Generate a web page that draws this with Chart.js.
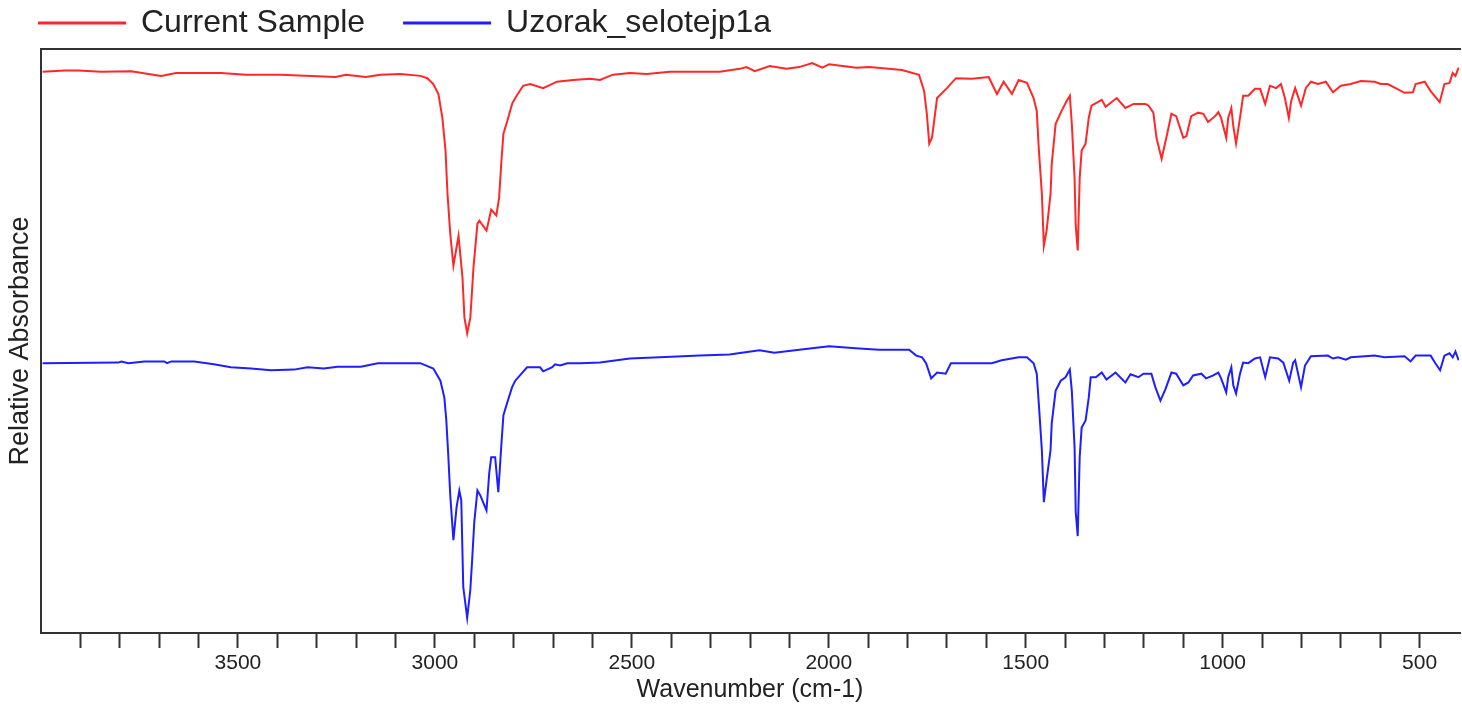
<!DOCTYPE html>
<html>
<head>
<meta charset="utf-8">
<title>IR spectra</title>
<script src="https://cdn.jsdelivr.net/npm/chart.js@4.4.1/dist/chart.umd.min.js"></script>
<style>
  html, body { margin: 0; padding: 0; background: #fff; }
  canvas { display: block; }
</style>
</head>
<body>
<canvas id="spectrum" width="1462" height="705"></canvas>
<script>
// series names
const seriesNames = ['Current Sample', 'Uzorak_selotejp1a'];

// x axis range (cm-1) and labelled ticks
const wnMin = 400;
const wnMax = 4000;
const tickStep = 100;
const labelStep = 500;

// Current Sample: wavenumber (cm-1) and relative value (0 = bottom of plot, 100 = top)
const redWn = [3996, 3940, 3905, 3847, 3771, 3695, 3657, 3543, 3480, 3391, 3252, 3226, 3176, 3138, 3087, 3037, 3019, 3004, 2991, 2981,
  2973, 2968, 2961, 2953, 2940, 2930, 2925, 2918, 2910, 2902, 2892, 2887, 2869, 2857, 2844, 2837, 2831, 2826, 2816, 2804,
  2796, 2776, 2758, 2725, 2690, 2649, 2606, 2581, 2548, 2505, 2462, 2404, 2277, 2226, 2209, 2188, 2150, 2107, 2075, 2042,
  2016, 1999, 1930, 1897, 1814, 1771, 1758, 1751, 1745, 1738, 1725, 1700, 1677, 1637, 1594, 1573, 1556, 1535, 1518, 1497,
  1480, 1472, 1467, 1459, 1454, 1447, 1437, 1434, 1424, 1409, 1396, 1388, 1383, 1376, 1373, 1368, 1363, 1358, 1348, 1340,
  1333, 1307, 1297, 1269, 1247, 1226, 1196, 1188, 1176, 1168, 1155, 1143, 1130, 1118, 1100, 1092, 1080, 1062, 1049, 1037,
  1019, 1011, 1004, 991, 986, 978, 973, 966, 956, 948, 935, 918, 905, 892, 880, 864, 852, 842, 832, 826,
  816, 801, 789, 776, 758, 738, 720, 700, 675, 649, 614, 599, 581, 538, 517, 510, 487, 472, 449, 437,
  424, 416, 409, 401];
const redVal = [96.1, 96.3, 96.3, 96.1, 96.2, 95.4, 95.9, 95.9, 95.6, 95.6, 95.2, 95.6, 95.2, 95.6, 95.7, 95.4, 95.0, 94.0, 92.3, 88.2,
  82.6, 75.2, 68.4, 62.9, 68.0, 60.9, 54.0, 51.3, 54.0, 62.6, 70.1, 70.6, 68.9, 72.5, 71.5, 74.5, 80.9, 85.5, 87.7, 90.6,
  91.6, 93.7, 94.0, 93.3, 94.4, 94.7, 94.9, 94.7, 95.6, 95.9, 95.7, 96.1, 96.1, 96.6, 96.9, 96.2, 97.1, 96.6, 96.9, 97.6,
  96.8, 97.4, 96.8, 96.9, 96.4, 95.6, 92.8, 88.9, 83.8, 84.8, 91.6, 93.3, 95.0, 94.9, 95.2, 92.3, 94.4, 92.3, 94.7, 94.2,
  91.6, 89.4, 83.1, 75.2, 66.3, 68.9, 75.2, 80.3, 87.2, 89.4, 91.1, 92.0, 87.2, 77.9, 69.7, 65.5, 77.9, 82.6, 83.8, 88.2,
  90.3, 91.3, 90.1, 91.6, 89.9, 90.6, 90.6, 90.3, 89.1, 84.8, 81.2, 84.8, 88.9, 88.5, 84.8, 85.1, 88.5, 89.1, 88.9, 87.5,
  88.5, 89.2, 88.2, 84.8, 88.2, 89.9, 86.8, 83.8, 88.2, 92.0, 92.0, 93.2, 93.2, 90.6, 93.7, 93.3, 94.0, 91.6, 88.2, 91.1,
  93.3, 90.3, 93.3, 94.4, 94.0, 94.4, 92.6, 93.7, 94.0, 94.5, 94.4, 94.0, 94.0, 92.5, 92.6, 94.0, 94.4, 92.8, 90.9, 94.0,
  94.2, 95.9, 95.4, 96.8];

// Uzorak_selotejp1a
const blueWn = [3996, 3804, 3796, 3778, 3738, 3687, 3680, 3669, 3611, 3561, 3518, 3467, 3416, 3358, 3323, 3282, 3247, 3188, 3145, 3037,
  3004, 2986, 2976, 2971, 2966, 2961, 2953, 2945, 2938, 2933, 2928, 2918, 2910, 2905, 2900, 2892, 2885, 2869, 2862, 2857,
  2847, 2839, 2831, 2826, 2816, 2804, 2796, 2766, 2733, 2725, 2702, 2695, 2682, 2664, 2631, 2581, 2505, 2429, 2328, 2252,
  2176, 2138, 2075, 1999, 1923, 1872, 1796, 1778, 1763, 1753, 1740, 1725, 1703, 1690, 1586, 1561, 1518, 1497, 1480, 1472,
  1467, 1459, 1454, 1447, 1437, 1434, 1424, 1411, 1399, 1388, 1383, 1376, 1373, 1368, 1363, 1358, 1348, 1340, 1335, 1322,
  1307, 1295, 1272, 1247, 1234, 1214, 1201, 1181, 1171, 1158, 1145, 1130, 1118, 1100, 1087, 1075, 1054, 1042, 1024, 1011,
  1004, 991, 986, 978, 973, 966, 956, 948, 935, 918, 905, 892, 880, 859, 846, 831, 821, 816, 801, 791,
  776, 733, 720, 707, 687, 675, 639, 614, 589, 538, 523, 510, 472, 460, 448, 437, 424, 416, 409, 401];
const blueVal = [46.2, 46.3, 46.5, 46.2, 46.5, 46.5, 46.2, 46.5, 46.5, 46.0, 45.5, 45.3, 45.0, 45.1, 45.5, 45.3, 45.6, 45.6, 46.2, 46.2,
  45.3, 43.2, 40.3, 36.4, 30.4, 23.6, 15.9, 21.5, 24.4, 22.7, 7.9, 2.6, 7.4, 13.0, 19.0, 24.4, 23.6, 21.0, 27.4, 30.1,
  30.1, 24.1, 32.5, 37.3, 39.5, 42.1, 43.2, 45.5, 45.5, 44.8, 45.5, 46.0, 45.8, 46.2, 46.2, 46.3, 47.0, 47.2, 47.5, 47.7,
  48.4, 48.0, 48.5, 49.1, 48.7, 48.5, 48.5, 47.5, 47.2, 46.2, 43.6, 44.6, 44.4, 46.2, 46.2, 46.7, 47.2, 47.2, 46.2, 44.4,
  39.5, 31.3, 22.4, 26.2, 31.3, 35.9, 41.5, 43.2, 43.8, 45.1, 41.5, 31.8, 20.7, 16.6, 30.1, 35.2, 36.4, 40.3, 43.8, 43.8,
  44.6, 43.4, 44.6, 42.9, 44.3, 43.8, 44.4, 44.4, 42.1, 39.8, 41.8, 44.6, 44.4, 42.4, 42.9, 44.1, 44.4, 43.6, 44.1, 44.6,
  43.6, 41.2, 43.8, 45.5, 42.4, 41.0, 44.4, 46.3, 46.2, 47.0, 47.2, 43.8, 47.2, 47.0, 46.3, 43.2, 46.3, 46.7, 42.1, 45.8,
  47.4, 47.5, 47.0, 47.2, 46.8, 47.2, 47.4, 47.5, 47.2, 47.4, 46.5, 47.5, 47.5, 46.2, 45.0, 47.5, 47.9, 47.2, 48.2, 46.7];

const toPoints = (xs, ys) => xs.map((x, i) => ({ x: x, y: ys[i] }));

const FONT = '"Liberation Sans", Arial, sans-serif';

// plot frame (left, top, bottom edges)
const framePlugin = {
  id: 'frame',
  afterDatasetsDraw(chart) {
    const { ctx, chartArea: a } = chart;
    ctx.save();
    ctx.strokeStyle = '#333';
    ctx.lineWidth = 2;
    ctx.beginPath();
    ctx.moveTo(a.right + 2, a.top);
    ctx.lineTo(a.left, a.top);
    ctx.lineTo(a.left, a.bottom);
    ctx.lineTo(a.right + 2, a.bottom);
    ctx.stroke();
    ctx.restore();
  }
};

new Chart(document.getElementById('spectrum'), {
  type: 'line',
  data: {
    datasets: [{
      label: seriesNames[0],
      data: toPoints(redWn, redVal),
      borderColor: 'rgb(255, 40, 40)',
      backgroundColor: 'rgb(255, 40, 40)',
      borderWidth: 2,
      pointRadius: 0,
      tension: 0
    }, {
      label: seriesNames[1],
      data: toPoints(blueWn, blueVal),
      borderColor: 'rgb(30, 30, 255)',
      backgroundColor: 'rgb(30, 30, 255)',
      borderWidth: 2,
      pointRadius: 0,
      tension: 0
    }]
  },
  options: {
    responsive: false,
    animation: false,
    devicePixelRatio: 1,
    layout: { padding: { top: -32, left: 0, right: 0, bottom: 0 } },
    scales: {
      x: {
        type: 'linear',
        reverse: true,
        min: wnMin,
        max: wnMax,
        afterFit: (s) => { s.height = 72; },
        border: { display: false },
        grid: {
          drawOnChartArea: false,
          drawTicks: true,
          tickLength: 15,
          tickColor: (c) => (c.tick && (c.tick.value === wnMin || c.tick.value === wnMax) ? 'rgba(0,0,0,0)' : '#333'),
          tickWidth: 2
        },
        ticks: {
          stepSize: tickStep,
          autoSkip: false,
          maxRotation: 0,
          padding: 3,
          color: '#222',
          font: { family: FONT, size: 21 },
          callback: (v) => (v % labelStep === 0 && v !== wnMax ? String(v) : '')
        },
        title: {
          display: true,
          text: 'Wavenumber (cm-1)',
          color: '#222',
          padding: { top: 0, bottom: 0 },
          font: { family: FONT, size: 25 }
        }
      },
      y: {
        min: 0,
        max: 100,
        afterFit: (s) => { s.width = 41; },
        border: { display: false },
        grid: { display: false },
        ticks: { display: false },
        title: {
          display: true,
          text: 'Relative Absorbance',
          color: '#222',
          padding: { top: 4, bottom: 0 },
          font: { family: FONT, size: 27 }
        }
      }
    },
    plugins: {
      legend: {
        position: 'top',
        align: 'start',
        labels: {
          boxWidth: 86,
          boxHeight: 1,
          padding: 39,
          color: '#222',
          font: { family: FONT, size: 32 }
        }
      },
      tooltip: { enabled: false }
    }
  },
  plugins: [framePlugin]
});
</script>
</body>
</html>
